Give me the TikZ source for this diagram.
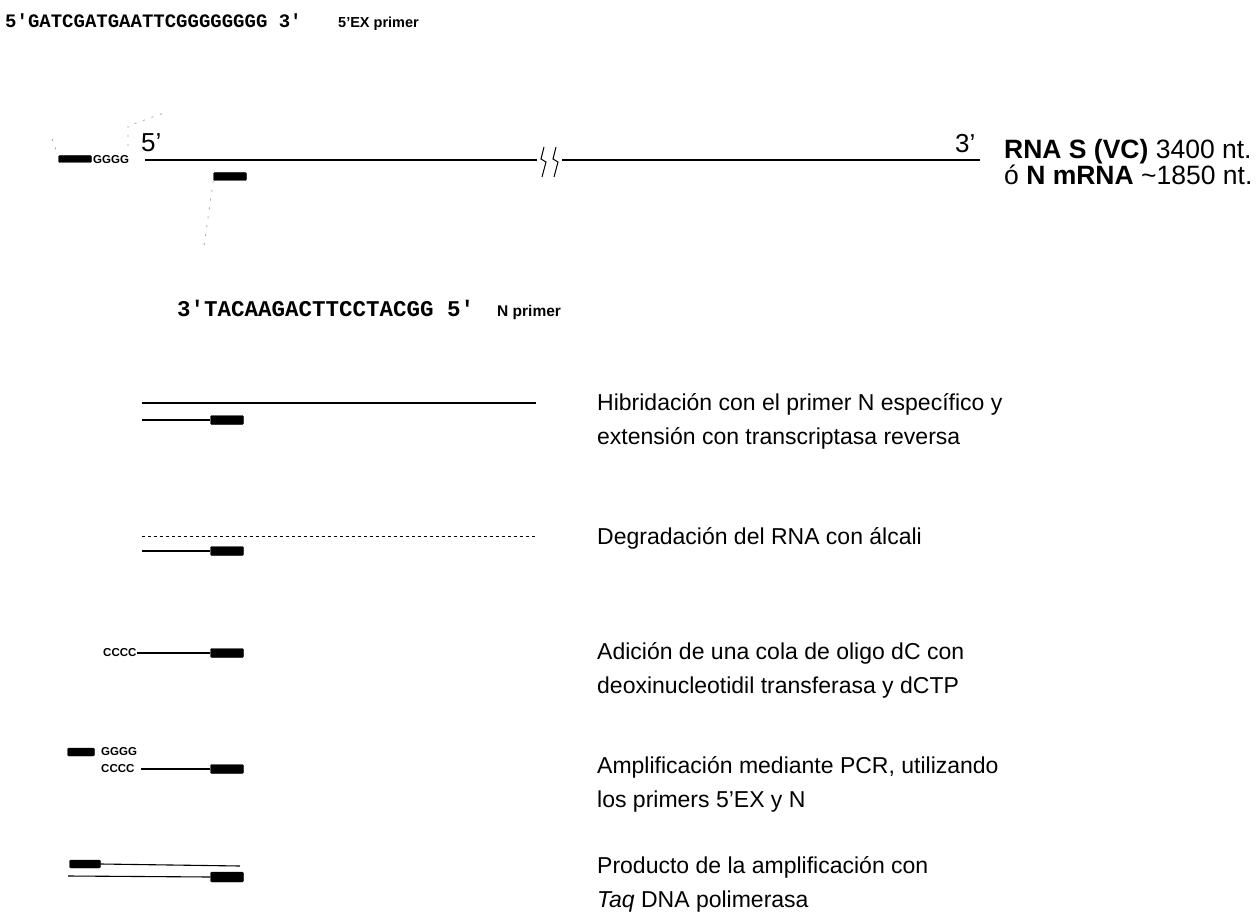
\documentclass[tikz,border=0pt]{standalone}
\usepackage{fontspec}
\setmainfont{Liberation Sans}
\newfontfamily\seqfont{Liberation Mono}
\begin{document}
\begin{tikzpicture}[x=1pt,y=-1pt,
  strand/.style={line width=1.1pt},
  faint/.style={draw=black!35,line width=0.8pt,dash pattern=on 2pt off 7pt},
  pbar/.style={fill=black,draw=black,rounded corners=1.2pt,minimum width=33pt,minimum height=8pt,inner sep=0pt},
  seq/.style={font=\seqfont\bfseries\fontsize{19}{19}\selectfont,anchor=base west,inner sep=0pt},
  tag/.style={font=\bfseries\fontsize{14.5}{14.5}\selectfont,anchor=base west,inner sep=0pt},
  tiny/.style={font=\bfseries\fontsize{11.5}{11.5}\selectfont,anchor=west,inner sep=0pt},
  endlab/.style={font=\fontsize{26}{26}\selectfont,anchor=base west,inner sep=0pt},
  steptext/.style={font=\fontsize{23}{34}\selectfont,anchor=base west,inner sep=0pt,align=left}]
\useasboundingbox (0,0) rectangle (1258,920);

% top primer sequence
\node[seq] (exseq) at (5,28) {5'GATCGATGAATTCGGGGGGGG 3'};
\node[tag] (exname) at (338,28) {5'EX primer};

% RNA template
\node[pbar,minimum width=33pt,minimum height=7pt] (ex0) at (75,159) {};
\node[tiny] (g0) at (93,159.5) {GGGG};
\node[endlab] (r5) at (141,152) {5'};
\coordinate (rA) at (145,160);
\coordinate (rB) at (537,160);
\coordinate (rC) at (562,160);
\coordinate (rD) at (980,160);
\draw[strand] (rA) -- (rB);
\draw[strand] (rC) -- (rD);
\draw[line width=1pt] (544,147) -- (541,159) -- (546,162) -- (542,177);
\draw[line width=1pt] (556,147) -- (553,159) -- (558,162) -- (554,177);
\node[endlab] (r3) at (955,153) {3'};
\node[pbar,minimum height=8pt] (n0) at (230,176.5) {};
% faint scan traces
\coordinate (fa) at (128,146);
\coordinate (fb) at (164,113);
\draw[faint] (fa) -- (128,126) -- (fb);
\coordinate (fc) at (52,139);
\coordinate (fd) at (56,150);
\draw[faint] (fc) -- (fd);
\coordinate (fe) at (204,246);
\draw[faint] (n0.south west) -- (fe);

\node[font=\fontsize{26.5}{26.5}\selectfont,anchor=base west,inner sep=0pt] (rna1) at (1004,159) {\textbf{RNA S (VC)} 3400 nt.};
\node[font=\fontsize{26.5}{26.5}\selectfont,anchor=base west,inner sep=0pt] (rna2) at (1004,185) {ó \textbf{N mRNA} \char`~1850 nt.};

% N primer sequence
\node[seq,font=\seqfont\bfseries\fontsize{22.5}{22.5}\selectfont] (nseq) at (177,316) {3'TACAAGACTTCCTACGG 5'};
\node[tag,font=\bfseries\fontsize{15.5}{15.5}\selectfont] (nname) at (497,316) {N primer};

% step 1
\coordinate (s1a) at (142,403);
\coordinate (s1b) at (536,403);
\draw[strand] (s1a) -- (s1b);
\node[pbar,minimum height=9pt] (n1) at (227,420) {};
\coordinate (s1c) at (142,420);
\draw[strand] (s1c) -- (n1.west);
\node[steptext] (t1) at (597,444) {Hibridación con el primer N específico y\\extensión con transcriptasa reversa};

% step 2
\coordinate (s2a) at (142,536);
\coordinate (s2b) at (536,536);
\draw[line width=0.9pt,dash pattern=on 3pt off 3pt] (s2a) -- (s2b);
\node[pbar,minimum height=9pt] (n2) at (227,551) {};
\coordinate (s2c) at (142,551);
\draw[strand] (s2c) -- (n2.west);
\node[steptext] (t2) at (597,544) {Degradación del RNA con álcali};

% step 3
\node[tiny] (c3) at (103,653) {CCCC};
\node[pbar,minimum height=9pt] (n3) at (227,653) {};
\draw[strand] (c3.east) -- (n3.west);
\node[steptext] (t3) at (597,693) {Adición de una cola de oligo dC con\\deoxinucleotidil transferasa y dCTP};

% step 4
\node[pbar,minimum width=27pt,minimum height=8pt] (ex4) at (81,752) {};
\node[tiny] (g4) at (101,752) {GGGG};
\node[tiny] (c4) at (101,769) {CCCC};
\node[pbar,minimum height=9pt] (n4) at (227,769) {};
\coordinate (s4a) at (141,769);
\draw[strand] (s4a) -- (n4.west);
\node[steptext] (t4) at (597,807) {Amplificación mediante PCR, utilizando\\los primers 5'EX y N};

% step 5
\node[pbar,minimum width=31pt,minimum height=8pt] (ex5) at (85,864) {};
\coordinate (s5a) at (240,866);
\draw[strand] (ex5.east) -- (s5a);
\node[pbar,minimum height=10pt] (n5) at (227,877) {};
\coordinate (s5c) at (68,876);
\draw[strand] (s5c) -- (n5.west);
\node[steptext] (t5) at (597,907) {Producto de la amplificación con\\\textit{Taq} DNA polimerasa};
\end{tikzpicture}
\end{document}
